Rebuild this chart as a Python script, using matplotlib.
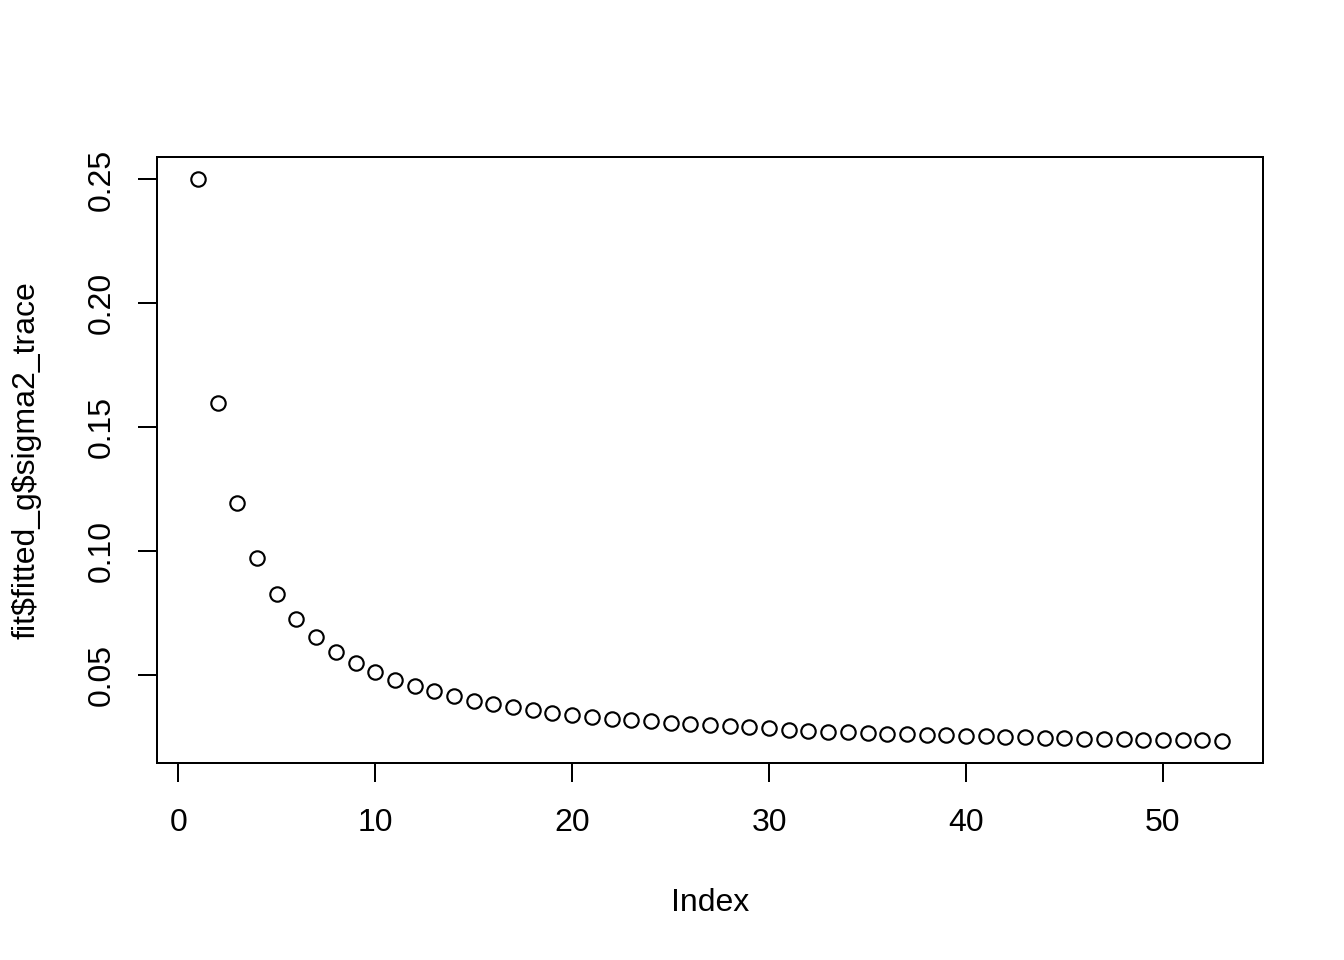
import numpy as np
import matplotlib.pyplot as plt

plt.rcParams['font.family'] = ['Liberation Sans', 'DejaVu Sans']

# sigma2 trace values
sigma2_trace = [0.2500, 0.1599, 0.1196, 0.0971, 0.0826, 0.0726, 0.0653, 0.0593,
                0.0549, 0.0512, 0.0480, 0.0456, 0.0436, 0.0416, 0.0397, 0.0383,
                0.0371, 0.0359, 0.0347, 0.0339, 0.0331, 0.0323, 0.0319, 0.0313,
                0.0307, 0.0303, 0.0299, 0.0295, 0.0289, 0.0285, 0.0280, 0.0276,
                0.0272, 0.0270, 0.0267, 0.0264, 0.0262, 0.0259, 0.0257, 0.0255,
                0.0253, 0.0251, 0.0249, 0.0247, 0.0246, 0.0244, 0.0242, 0.0241,
                0.0240, 0.0239, 0.0238, 0.0237, 0.0236]
index = np.arange(1, len(sigma2_trace) + 1)
x_ticks = [0, 10, 20, 30, 40, 50]
y_ticks = [0.05, 0.10, 0.15, 0.20, 0.25]

fig = plt.figure(figsize=(7, 5), dpi=192)
ax = fig.add_axes([157/1344, 1 - 763/960, (1263-157)/1344, (763-157)/960])

ax.plot(index, sigma2_trace, 'o', mfc='none', mec='black', ms=5.4, mew=0.8)

# R style 4% padding
xr = index.max() - index.min()
ax.set_xlim(index.min() - 0.04*xr, index.max() + 0.04*xr)
yr = max(sigma2_trace) - min(sigma2_trace)
ax.set_ylim(min(sigma2_trace) - 0.04*yr, max(sigma2_trace) + 0.04*yr)

ax.set_xticks(x_ticks)
ax.set_yticks(y_ticks)
ax.set_xticklabels([str(t) for t in x_ticks])
ax.set_yticklabels(['%.2f' % t for t in y_ticks], rotation=90, va='center')
ax.tick_params(direction='out', length=7, width=0.75, labelsize=12)
ax.tick_params(axis='x', pad=10)
ax.tick_params(axis='y', pad=8)
for s in ax.spines.values():
    s.set_linewidth(0.75)

ax.set_xlabel('Index', fontsize=12, labelpad=18.5)
ax.set_ylabel(r'fit\$fitted_g\$sigma2_trace', fontsize=12, labelpad=17)

fig.savefig('out.png', dpi=192)
